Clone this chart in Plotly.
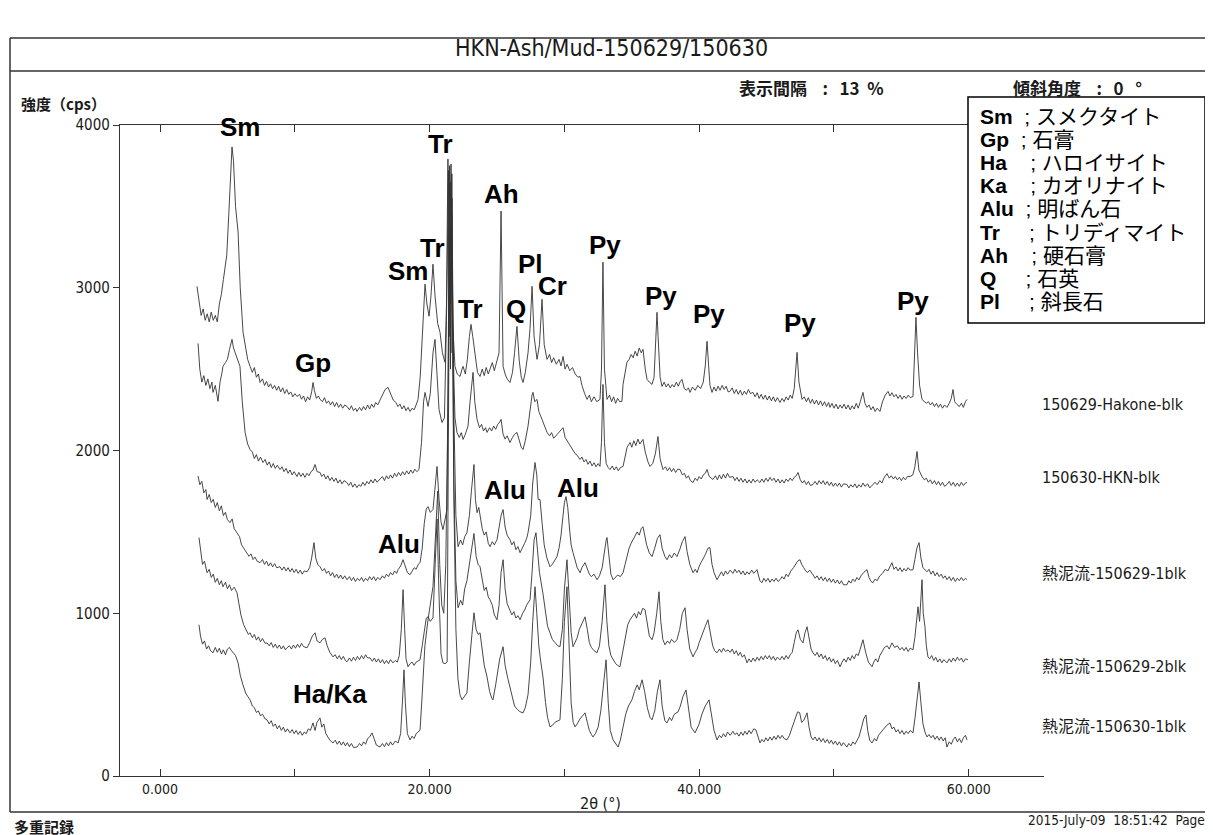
import plotly.graph_objects as go

W, H = 1213, 835

# ---------------- data: (2theta [deg], intensity [cps]) ----------------
hakone_blk = [
    (2.74, 3009), (2.90, 2900), (3.05, 2830), (3.20, 2870), (3.35, 2800), (3.50, 2840), (3.65, 2790), (3.80, 2850),
    (3.95, 2800), (4.10, 2830), (4.25, 2790), (4.40, 2900), (4.55, 2960), (4.70, 3050), (4.82, 3114), (4.95, 3200),
    (5.10, 3450), (5.25, 3750), (5.34, 3865), (5.45, 3780), (5.60, 3500), (5.79, 3342), (5.95, 3000), (6.16, 2726),
    (6.35, 2620), (6.50, 2560), (6.68, 2517), (6.85, 2480), (7.00, 2510), (7.15, 2450), (7.30, 2470), (7.42, 2418),
    (7.60, 2440), (7.75, 2400), (7.90, 2425), (8.05, 2390), (8.20, 2410), (8.35, 2380), (8.50, 2400), (8.65, 2370),
    (8.80, 2395), (8.95, 2360), (9.10, 2385), (9.25, 2350), (9.40, 2375), (9.55, 2345), (9.70, 2360), (9.85, 2330),
    (10.00, 2350), (10.16, 2332), (10.35, 2345), (10.50, 2315), (10.65, 2335), (10.80, 2300), (10.95, 2330),
    (11.10, 2310), (11.25, 2360), (11.35, 2418), (11.45, 2370), (11.60, 2320), (11.75, 2335), (11.87, 2314),
    (12.05, 2300), (12.20, 2325), (12.35, 2290), (12.50, 2305), (12.65, 2280), (12.80, 2300), (12.95, 2270),
    (13.10, 2295), (13.25, 2265), (13.40, 2285), (13.55, 2260), (13.70, 2280), (13.87, 2271), (14.05, 2250),
    (14.20, 2275), (14.35, 2245), (14.50, 2260), (14.61, 2240), (14.80, 2265), (14.95, 2245), (15.10, 2270),
    (15.25, 2250), (15.40, 2280), (15.55, 2255), (15.70, 2285), (15.85, 2265), (16.00, 2295), (16.15, 2280),
    (16.32, 2310), (16.50, 2340), (16.70, 2375), (16.91, 2388), (17.10, 2350), (17.30, 2310), (17.50, 2295),
    (17.65, 2270), (17.80, 2285), (17.95, 2255), (18.10, 2275), (18.25, 2245), (18.40, 2265), (18.55, 2240),
    (18.70, 2260), (18.85, 2250), (19.00, 2280), (19.14, 2314), (19.30, 2450), (19.50, 2800), (19.66, 3022),
    (19.80, 2900), (19.96, 2825), (20.10, 2950), (20.25, 3145), (20.40, 2950), (20.60, 2780), (20.77, 2726),
    (20.95, 2600), (21.14, 2542), (21.25, 2900), (21.36, 3791), (21.45, 2700), (21.52, 3400), (21.59, 3760),
    (21.70, 2800), (21.88, 2517), (22.05, 2470), (22.26, 2455), (22.40, 2500), (22.48, 2517), (22.65, 2470),
    (22.80, 2560), (22.95, 2700), (23.07, 2775), (23.20, 2700), (23.37, 2603), (23.55, 2480), (23.74, 2455),
    (23.90, 2500), (24.05, 2460), (24.20, 2510), (24.35, 2470), (24.48, 2498), (24.65, 2540), (24.80, 2490),
    (25.00, 2560), (25.15, 2600), (25.30, 3471), (25.40, 2700), (25.45, 2517), (25.60, 2470), (25.75, 2440),
    (25.96, 2418), (26.15, 2480), (26.30, 2600), (26.48, 2763), (26.65, 2550), (26.80, 2450), (26.93, 2418),
    (27.10, 2480), (27.30, 2600), (27.45, 2750), (27.60, 3009), (27.75, 2700), (27.97, 2560), (28.15, 2650),
    (28.34, 2929), (28.50, 2650), (28.71, 2560), (28.90, 2590), (29.05, 2540), (29.20, 2570), (29.40, 2530),
    (29.60, 2560), (29.75, 2520), (29.90, 2578), (30.05, 2500), (30.20, 2530), (30.40, 2490), (30.60, 2510),
    (30.80, 2470), (31.00, 2450), (31.16, 2455), (31.30, 2400), (31.50, 2350), (31.68, 2314), (31.85, 2340),
    (32.00, 2300), (32.20, 2330), (32.40, 2300), (32.64, 2314), (32.75, 2500), (32.86, 3157), (32.97, 2500),
    (33.16, 2314), (33.35, 2340), (33.50, 2300), (33.65, 2330), (33.80, 2290), (33.95, 2320), (34.10, 2300),
    (34.27, 2302), (34.35, 2406), (34.50, 2480), (34.64, 2542), (34.80, 2560), (34.95, 2590), (35.10, 2570),
    (35.25, 2610), (35.40, 2580), (35.55, 2630), (35.70, 2600), (35.83, 2622), (36.00, 2500), (36.13, 2437),
    (36.30, 2420), (36.50, 2406), (36.65, 2450), (36.80, 2700), (36.87, 2849), (36.95, 2700), (37.10, 2450),
    (37.24, 2394), (37.40, 2420), (37.55, 2390), (37.70, 2410), (37.85, 2385), (38.00, 2405), (38.15, 2390),
    (38.30, 2420), (38.45, 2395), (38.60, 2425), (38.72, 2437), (38.90, 2380), (39.05, 2370), (39.20, 2385),
    (39.32, 2357), (39.50, 2390), (39.70, 2370), (39.90, 2400), (40.10, 2380), (40.30, 2420), (40.45, 2520),
    (40.58, 2671), (40.70, 2520), (40.80, 2400), (40.95, 2357), (41.10, 2390), (41.25, 2365), (41.40, 2395),
    (41.55, 2370), (41.70, 2400), (41.85, 2375), (42.00, 2395), (42.15, 2360), (42.28, 2363), (42.45, 2385),
    (42.60, 2350), (42.75, 2375), (42.90, 2345), (43.05, 2370), (43.20, 2340), (43.35, 2365), (43.50, 2345),
    (43.65, 2375), (43.80, 2350), (43.99, 2357), (44.15, 2330), (44.30, 2355), (44.45, 2320), (44.60, 2345),
    (44.75, 2315), (44.90, 2340), (45.05, 2310), (45.20, 2335), (45.35, 2305), (45.50, 2330), (45.65, 2300),
    (45.80, 2325), (45.99, 2295), (46.15, 2320), (46.30, 2300), (46.45, 2330), (46.60, 2310), (46.75, 2340),
    (46.90, 2320), (47.05, 2380), (47.15, 2480), (47.26, 2603), (47.40, 2420), (47.63, 2314), (47.80, 2330),
    (47.95, 2300), (48.10, 2325), (48.25, 2290), (48.40, 2315), (48.55, 2285), (48.70, 2310), (48.85, 2280),
    (49.00, 2305), (49.15, 2275), (49.30, 2300), (49.45, 2270), (49.60, 2295), (49.70, 2265), (49.85, 2290),
    (50.00, 2260), (50.15, 2285), (50.30, 2255), (50.45, 2280), (50.60, 2260), (50.75, 2285), (50.90, 2255),
    (51.05, 2280), (51.20, 2250), (51.35, 2275), (51.50, 2255), (51.65, 2290), (51.80, 2260), (51.95, 2300),
    (52.15, 2357), (52.30, 2290), (52.45, 2265), (52.60, 2280), (52.75, 2250), (52.90, 2270), (53.05, 2240),
    (53.20, 2260), (53.41, 2240), (53.60, 2300), (53.80, 2340), (54.01, 2363), (54.15, 2335), (54.30, 2355),
    (54.45, 2330), (54.60, 2345), (54.75, 2320), (54.90, 2340), (55.05, 2315), (55.20, 2335), (55.35, 2320),
    (55.50, 2340), (55.65, 2325), (55.86, 2332), (55.95, 2500), (56.08, 2818), (56.20, 2600), (56.35, 2400),
    (56.53, 2314), (56.70, 2300), (56.85, 2290), (57.00, 2300), (57.15, 2280), (57.30, 2295), (57.45, 2270),
    (57.60, 2290), (57.75, 2265), (57.90, 2285), (58.05, 2260), (58.20, 2280), (58.38, 2265), (58.55, 2290),
    (58.70, 2320), (58.83, 2375), (58.95, 2300), (59.12, 2283), (59.30, 2270), (59.45, 2290), (59.60, 2265),
    (59.75, 2300), (59.87, 2314),
]

hkn_blk = [
    (2.82, 2658), (2.95, 2500), (3.10, 2420), (3.25, 2460), (3.40, 2400), (3.55, 2440), (3.70, 2380), (3.85, 2420),
    (3.93, 2357), (4.10, 2400), (4.30, 2302), (4.45, 2420), (4.60, 2480), (4.67, 2517), (4.85, 2540), (5.00, 2560),
    (5.15, 2620), (5.34, 2683), (5.45, 2630), (5.56, 2603), (5.75, 2560), (5.93, 2517), (6.10, 2300), (6.31, 2111),
    (6.50, 2040), (6.68, 2006), (6.85, 1990), (7.00, 1950), (7.15, 1975), (7.30, 1935), (7.45, 1960), (7.64, 1926),
    (7.80, 1945), (7.95, 1910), (8.10, 1930), (8.25, 1895), (8.40, 1920), (8.55, 1890), (8.70, 1910), (8.90, 1883),
    (9.05, 1900), (9.20, 1870), (9.35, 1890), (9.50, 1860), (9.65, 1880), (9.80, 1850), (9.95, 1870), (10.16, 1840),
    (10.30, 1865), (10.45, 1840), (10.60, 1860), (10.75, 1835), (10.90, 1860), (11.05, 1845), (11.20, 1870),
    (11.35, 1880), (11.50, 1914), (11.65, 1870), (11.87, 1865), (12.00, 1840), (12.15, 1855), (12.30, 1825),
    (12.45, 1845), (12.60, 1815), (12.75, 1835), (12.90, 1810), (13.05, 1830), (13.20, 1800), (13.35, 1820),
    (13.50, 1795), (13.65, 1815), (13.87, 1803), (14.00, 1785), (14.15, 1805), (14.30, 1775), (14.45, 1795),
    (14.61, 1772), (14.75, 1790), (14.90, 1780), (15.05, 1805), (15.20, 1785), (15.35, 1810), (15.50, 1795),
    (15.65, 1820), (15.80, 1800), (15.95, 1825), (16.10, 1805), (16.32, 1822), (16.50, 1840), (16.65, 1815),
    (16.80, 1845), (16.95, 1825), (17.10, 1850), (17.25, 1830), (17.40, 1860), (17.55, 1840), (17.70, 1865),
    (17.85, 1845), (18.00, 1870), (18.15, 1850), (18.30, 1875), (18.45, 1855), (18.60, 1880), (18.75, 1860),
    (18.90, 1885), (19.05, 1870), (19.21, 1883), (19.40, 2050), (19.55, 2300), (19.66, 2357), (19.80, 2300),
    (19.88, 2271), (20.05, 2350), (20.25, 2600), (20.40, 2683), (20.55, 2500), (20.70, 2250), (20.92, 2172),
    (21.10, 2200), (21.25, 2800), (21.40, 3720), (21.50, 2900), (21.60, 3650), (21.75, 2600), (21.88, 2200),
    (22.03, 2111), (22.20, 2080), (22.35, 2110), (22.48, 2068), (22.65, 2100), (22.85, 2150), (23.00, 2300),
    (23.15, 2450), (23.22, 2480), (23.35, 2300), (23.52, 2191), (23.70, 2140), (23.85, 2160), (24.00, 2120),
    (24.15, 2140), (24.26, 2111), (24.45, 2140), (24.60, 2120), (24.75, 2150), (24.90, 2130), (25.05, 2160),
    (25.20, 2175), (25.30, 2191), (25.45, 2100), (25.60, 2070), (25.75, 2090), (25.96, 2049), (26.15, 2080),
    (26.30, 2100), (26.48, 2111), (26.65, 2060), (26.80, 2020), (26.93, 2006), (27.10, 2060), (27.30, 2150),
    (27.45, 2250), (27.60, 2340), (27.67, 2357), (27.80, 2300), (27.97, 2314), (28.10, 2240), (28.34, 2191),
    (28.50, 2150), (28.71, 2111), (28.90, 2090), (29.05, 2110), (29.20, 2075), (29.40, 2095), (29.60, 2110),
    (29.75, 2130), (29.90, 2140), (30.05, 2080), (30.20, 2060), (30.35, 2040), (30.50, 2020), (30.65, 2000),
    (30.80, 1980), (30.95, 1970), (31.16, 1945), (31.30, 1960), (31.45, 1930), (31.60, 1945), (31.75, 1915),
    (31.90, 1935), (32.05, 1905), (32.20, 1925), (32.35, 1900), (32.50, 1920), (32.64, 1902), (32.75, 2050),
    (32.86, 2406), (32.97, 2050), (33.10, 1920), (33.25, 1895), (33.38, 1883), (33.55, 1905), (33.70, 1880),
    (33.85, 1900), (34.00, 1875), (34.15, 1895), (34.35, 1902), (34.50, 1960), (34.65, 2020), (34.87, 2049),
    (35.00, 2020), (35.15, 2060), (35.30, 2030), (35.45, 2070), (35.60, 2040), (35.83, 2068), (36.00, 1990),
    (36.20, 1930), (36.35, 1902), (36.55, 1920), (36.75, 1980), (36.94, 2086), (37.10, 1950), (37.31, 1883),
    (37.50, 1900), (37.65, 1875), (37.80, 1895), (37.95, 1870), (38.10, 1890), (38.25, 1865), (38.40, 1885),
    (38.58, 1883), (38.75, 1850), (38.90, 1860), (39.05, 1830), (39.20, 1845), (39.35, 1815), (39.54, 1803),
    (39.70, 1830), (39.85, 1815), (40.00, 1840), (40.15, 1825), (40.30, 1850), (40.45, 1860), (40.58, 1883),
    (40.75, 1840), (41.02, 1822), (41.20, 1845), (41.35, 1820), (41.50, 1850), (41.65, 1825), (41.80, 1855),
    (41.95, 1830), (42.10, 1860), (42.25, 1835), (42.51, 1840), (42.65, 1815), (42.80, 1835), (42.95, 1810),
    (43.10, 1830), (43.25, 1805), (43.40, 1825), (43.55, 1800), (43.70, 1820), (43.85, 1800), (44.00, 1825),
    (44.15, 1805), (44.30, 1820), (44.51, 1803), (44.65, 1825), (44.80, 1805), (44.95, 1830), (45.10, 1810),
    (45.25, 1835), (45.40, 1815), (45.55, 1830), (45.70, 1805), (45.85, 1825), (46.00, 1800), (46.15, 1820),
    (46.30, 1800), (46.45, 1825), (46.60, 1810), (46.75, 1830), (46.90, 1815), (47.05, 1835), (47.20, 1845),
    (47.33, 1865), (47.50, 1820), (47.65, 1800), (47.80, 1815), (47.95, 1790), (48.10, 1810), (48.25, 1785),
    (48.44, 1791), (48.60, 1810), (48.75, 1790), (48.90, 1815), (49.05, 1795), (49.20, 1815), (49.35, 1790),
    (49.50, 1810), (49.65, 1785), (49.80, 1805), (49.95, 1780), (50.10, 1800), (50.25, 1780), (50.40, 1800),
    (50.55, 1775), (50.70, 1795), (50.96, 1791), (51.10, 1770), (51.25, 1790), (51.40, 1775), (51.55, 1795),
    (51.70, 1770), (51.85, 1790), (52.00, 1775), (52.15, 1800), (52.30, 1780), (52.50, 1795), (52.65, 1770),
    (52.89, 1791), (53.05, 1805), (53.20, 1790), (53.40, 1815), (53.55, 1800), (53.70, 1830), (53.93, 1858),
    (54.10, 1830), (54.25, 1845), (54.40, 1825), (54.55, 1840), (54.70, 1820), (54.85, 1835), (55.00, 1815),
    (55.15, 1835), (55.30, 1820), (55.45, 1840), (55.64, 1840), (55.85, 1850), (56.00, 1900), (56.16, 1994),
    (56.30, 1880), (56.53, 1840), (56.70, 1820), (56.85, 1830), (57.00, 1805), (57.15, 1820), (57.30, 1795),
    (57.45, 1815), (57.60, 1790), (57.75, 1810), (57.90, 1785), (58.05, 1805), (58.20, 1780), (58.38, 1791),
    (58.55, 1810), (58.70, 1785), (58.85, 1805), (59.00, 1780), (59.15, 1800), (59.30, 1780), (59.45, 1805),
    (59.60, 1785), (59.75, 1800), (59.87, 1803),
]

mud_150629_1 = [
    (2.82, 1843), (2.95, 1790), (3.10, 1810), (3.25, 1740), (3.40, 1760), (3.49, 1699), (3.65, 1730), (3.80, 1680),
    (3.95, 1700), (4.10, 1650), (4.25, 1680), (4.40, 1630), (4.55, 1660), (4.70, 1600), (4.85, 1620), (5.00, 1575),
    (5.19, 1557), (5.35, 1580), (5.50, 1520), (5.71, 1495), (5.90, 1470), (6.05, 1420), (6.20, 1400), (6.45, 1372),
    (6.60, 1350), (6.75, 1365), (6.90, 1330), (7.05, 1345), (7.20, 1320), (7.42, 1311), (7.60, 1330), (7.75, 1300),
    (7.90, 1320), (8.05, 1290), (8.20, 1310), (8.35, 1285), (8.50, 1305), (8.65, 1280), (8.90, 1286), (9.05, 1265),
    (9.20, 1285), (9.35, 1260), (9.50, 1280), (9.65, 1255), (9.80, 1275), (9.95, 1250), (10.10, 1270), (10.25, 1245),
    (10.40, 1265), (10.55, 1240), (10.70, 1260), (10.91, 1255), (11.10, 1280), (11.25, 1340), (11.42, 1434),
    (11.55, 1340), (11.70, 1300), (11.87, 1286), (12.05, 1260), (12.20, 1275), (12.35, 1245), (12.50, 1260),
    (12.65, 1230), (12.80, 1250), (12.95, 1220), (13.10, 1240), (13.25, 1215), (13.40, 1235), (13.55, 1210),
    (13.70, 1230), (13.87, 1206), (14.05, 1225), (14.20, 1200), (14.35, 1220), (14.50, 1195), (14.65, 1215),
    (14.80, 1200), (14.95, 1220), (15.10, 1195), (15.25, 1215), (15.40, 1200), (15.55, 1225), (15.70, 1205),
    (15.85, 1225), (16.00, 1200), (16.15, 1220), (16.32, 1206), (16.50, 1230), (16.65, 1215), (16.80, 1240),
    (16.95, 1225), (17.10, 1250), (17.25, 1235), (17.40, 1260), (17.55, 1245), (17.66, 1268), (17.85, 1290),
    (18.03, 1329), (18.20, 1280), (18.35, 1250), (18.55, 1237), (18.70, 1260), (18.85, 1280), (19.00, 1270),
    (19.15, 1300), (19.29, 1311), (19.45, 1400), (19.60, 1550), (19.75, 1640), (19.88, 1655), (20.05, 1620),
    (20.25, 1637), (20.40, 1780), (20.55, 1902), (20.70, 1700), (20.85, 1560), (20.99, 1514), (21.15, 1580),
    (21.29, 1637), (21.40, 2800), (21.48, 3750), (21.56, 2900), (21.65, 3700), (21.78, 2300), (21.95, 1600),
    (22.11, 1409), (22.30, 1450), (22.45, 1420), (22.60, 1470), (22.77, 1495), (22.95, 1600), (23.10, 1750),
    (23.29, 1914), (23.40, 1700), (23.52, 1618), (23.65, 1650), (23.74, 1594), (23.90, 1520), (24.05, 1480),
    (24.20, 1500), (24.35, 1430), (24.48, 1409), (24.65, 1440), (24.80, 1420), (25.00, 1452), (25.15, 1520),
    (25.30, 1600), (25.45, 1637), (25.60, 1530), (25.75, 1480), (25.96, 1452), (26.10, 1420), (26.25, 1440),
    (26.40, 1390), (26.55, 1410), (26.71, 1372), (26.90, 1400), (27.05, 1430), (27.20, 1460), (27.30, 1495),
    (27.50, 1600), (27.65, 1800), (27.82, 1926), (27.95, 1850), (28.05, 1700), (28.19, 1699), (28.35, 1550),
    (28.50, 1420), (28.70, 1340), (28.93, 1286), (29.10, 1300), (29.25, 1320), (29.45, 1348), (29.60, 1400),
    (29.75, 1480), (29.90, 1600), (30.00, 1680), (30.12, 1717), (30.25, 1650), (30.40, 1500), (30.50, 1420),
    (30.64, 1372), (30.80, 1320), (30.95, 1280), (31.16, 1249), (31.30, 1280), (31.53, 1311), (31.70, 1270),
    (31.85, 1240), (32.00, 1225), (32.20, 1240), (32.42, 1206), (32.60, 1230), (32.80, 1280), (32.95, 1380),
    (33.10, 1450), (33.16, 1465), (33.30, 1350), (33.45, 1240), (33.61, 1206), (33.80, 1220), (33.95, 1235),
    (34.15, 1225), (34.35, 1249), (34.50, 1300), (34.65, 1350), (34.80, 1400), (34.95, 1430), (35.09, 1452),
    (35.25, 1470), (35.40, 1500), (35.55, 1480), (35.70, 1520), (35.83, 1532), (35.95, 1480), (36.10, 1420),
    (36.30, 1370), (36.50, 1348), (36.70, 1400), (36.90, 1460), (37.09, 1483), (37.25, 1400), (37.45, 1350),
    (37.61, 1329), (37.80, 1360), (37.95, 1340), (38.15, 1370), (38.35, 1348), (38.55, 1390), (38.75, 1440),
    (38.95, 1471), (39.10, 1380), (39.30, 1300), (39.54, 1249), (39.70, 1270), (39.85, 1250), (40.00, 1290),
    (40.20, 1320), (40.45, 1360), (40.65, 1400), (40.80, 1403), (40.95, 1300), (41.10, 1250), (41.32, 1206),
    (41.50, 1230), (41.65, 1255), (41.80, 1230), (41.95, 1260), (42.10, 1240), (42.30, 1265), (42.50, 1245),
    (42.65, 1270), (42.80, 1249), (42.95, 1265), (43.10, 1240), (43.25, 1260), (43.40, 1235), (43.55, 1255),
    (43.70, 1240), (43.90, 1265), (44.05, 1245), (44.29, 1268), (44.50, 1200), (44.66, 1188), (44.80, 1215),
    (44.95, 1195), (45.10, 1215), (45.25, 1190), (45.40, 1210), (45.55, 1195), (45.70, 1215), (45.85, 1195),
    (45.99, 1206), (46.15, 1225), (46.30, 1210), (46.45, 1240), (46.60, 1225), (46.80, 1260), (47.00, 1280),
    (47.15, 1300), (47.30, 1320), (47.48, 1329), (47.60, 1300), (47.75, 1280), (47.90, 1260), (48.05, 1250),
    (48.20, 1265), (48.44, 1237), (48.60, 1215), (48.75, 1230), (48.90, 1205), (49.05, 1225), (49.20, 1200),
    (49.35, 1220), (49.50, 1195), (49.65, 1215), (49.80, 1190), (49.95, 1210), (50.10, 1185), (50.25, 1205),
    (50.40, 1180), (50.55, 1200), (50.70, 1175), (50.96, 1175), (51.10, 1200), (51.25, 1185), (51.40, 1210),
    (51.55, 1195), (51.70, 1220), (51.85, 1205), (52.00, 1230), (52.20, 1250), (52.45, 1268), (52.60, 1220),
    (52.75, 1195), (52.89, 1188), (53.05, 1210), (53.20, 1200), (53.40, 1230), (53.60, 1245), (53.80, 1270),
    (54.00, 1260), (54.15, 1290), (54.30, 1311), (54.45, 1270), (54.60, 1285), (54.75, 1260), (54.90, 1280),
    (55.05, 1255), (55.20, 1275), (55.35, 1260), (55.50, 1280), (55.65, 1265), (55.86, 1268), (56.00, 1330),
    (56.15, 1400), (56.31, 1434), (56.45, 1340), (56.60, 1280), (56.75, 1265), (56.90, 1255), (57.05, 1270),
    (57.20, 1240), (57.35, 1260), (57.50, 1230), (57.65, 1250), (57.80, 1225), (57.95, 1240), (58.10, 1215),
    (58.25, 1230), (58.38, 1206), (58.55, 1225), (58.70, 1200), (58.85, 1220), (59.00, 1195), (59.15, 1215),
    (59.30, 1200), (59.45, 1220), (59.60, 1200), (59.75, 1215), (59.87, 1206),
]

mud_150629_2 = [
    (2.89, 1465), (3.00, 1380), (3.15, 1300), (3.30, 1320), (3.49, 1249), (3.65, 1270), (3.80, 1220), (3.95, 1240),
    (4.10, 1190), (4.25, 1215), (4.40, 1175), (4.55, 1200), (4.67, 1163), (4.85, 1190), (5.00, 1150), (5.15, 1175),
    (5.30, 1140), (5.50, 1160), (5.71, 1126), (5.85, 1060), (6.00, 990), (6.20, 930), (6.40, 900), (6.55, 870),
    (6.68, 880), (6.85, 850), (7.00, 870), (7.15, 835), (7.30, 855), (7.45, 825), (7.60, 845), (7.80, 815),
    (7.94, 818), (8.10, 800), (8.25, 820), (8.40, 790), (8.55, 810), (8.70, 785), (8.85, 805), (9.00, 780),
    (9.15, 800), (9.30, 775), (9.42, 788), (9.60, 800), (9.75, 780), (9.90, 805), (10.05, 785), (10.20, 810),
    (10.35, 790), (10.50, 815), (10.65, 795), (10.91, 788), (11.10, 820), (11.30, 860), (11.50, 880), (11.65, 830),
    (11.87, 818), (12.05, 840), (12.24, 849), (12.40, 800), (12.60, 760), (12.83, 732), (13.00, 745), (13.15, 720),
    (13.30, 740), (13.45, 715), (13.60, 735), (13.75, 710), (13.87, 702), (14.05, 725), (14.20, 705), (14.35, 730),
    (14.50, 710), (14.65, 735), (14.80, 715), (14.95, 740), (15.10, 720), (15.25, 745), (15.40, 725), (15.58, 726),
    (15.75, 705), (15.90, 725), (16.05, 700), (16.20, 720), (16.35, 695), (16.50, 715), (16.65, 690), (16.80, 710),
    (16.95, 690), (17.10, 715), (17.28, 695), (17.45, 710), (17.60, 700), (17.75, 740), (17.90, 900), (18.03, 1145),
    (18.15, 900), (18.25, 720), (18.40, 671), (18.55, 690), (18.70, 700), (18.85, 680), (19.00, 700), (19.15, 710),
    (19.29, 714), (19.45, 800), (19.60, 900), (19.75, 970), (19.88, 978), (20.05, 950), (20.25, 972), (20.40, 1300),
    (20.55, 1580), (20.70, 1100), (20.85, 750), (20.99, 695), (21.15, 690), (21.30, 700), (21.42, 2700),
    (21.50, 3650), (21.58, 2600), (21.66, 3550), (21.80, 1800), (21.95, 1200), (22.11, 1034), (22.30, 1080),
    (22.45, 1050), (22.60, 1150), (22.77, 1200), (22.95, 1300), (23.10, 1400), (23.29, 1490), (23.45, 1350),
    (23.60, 1300), (23.74, 1286), (23.90, 1200), (24.05, 1140), (24.20, 1160), (24.35, 1100), (24.48, 1083),
    (24.65, 1050), (24.80, 990), (25.00, 960), (25.15, 1050), (25.30, 1250), (25.45, 1329), (25.60, 1150),
    (25.75, 1060), (25.96, 1022), (26.10, 990), (26.25, 1010), (26.40, 970), (26.55, 985), (26.71, 960),
    (26.90, 1000), (27.05, 1020), (27.20, 1050), (27.45, 1083), (27.60, 1250), (27.75, 1450), (27.89, 1495),
    (28.00, 1400), (28.15, 1250), (28.41, 1120), (28.60, 1000), (28.75, 920), (28.93, 880), (29.10, 840),
    (29.30, 820), (29.50, 800), (29.67, 794), (29.85, 900), (30.00, 1150), (30.19, 1329), (30.35, 1100),
    (30.50, 880), (30.64, 794), (30.80, 820), (30.95, 850), (31.10, 900), (31.30, 940), (31.53, 978), (31.70, 900),
    (31.85, 820), (32.00, 790), (32.20, 770), (32.42, 757), (32.60, 800), (32.80, 950), (33.01, 1175), (33.15, 950),
    (33.30, 800), (33.45, 740), (33.61, 714), (33.80, 690), (33.95, 680), (34.12, 671), (34.30, 750), (34.50, 850),
    (34.70, 930), (34.87, 960), (35.05, 980), (35.20, 1000), (35.35, 970), (35.50, 1010), (35.65, 990),
    (35.80, 1030), (35.98, 1022), (36.15, 920), (36.30, 860), (36.50, 837), (36.65, 880), (36.85, 1000),
    (37.02, 1132), (37.15, 950), (37.30, 840), (37.46, 806), (37.65, 830), (37.80, 815), (37.95, 840), (38.15, 820),
    (38.35, 837), (38.55, 900), (38.75, 1000), (38.95, 1034), (39.10, 900), (39.30, 780), (39.54, 732), (39.70, 760),
    (39.85, 780), (40.00, 820), (40.20, 870), (40.45, 920), (40.65, 960), (40.80, 880), (41.00, 800), (41.15, 770),
    (41.32, 757), (41.50, 780), (41.65, 760), (41.80, 785), (41.95, 765), (42.14, 775), (42.30, 760), (42.45, 780),
    (42.60, 750), (42.75, 770), (42.90, 740), (43.05, 760), (43.20, 730), (43.35, 745), (43.55, 695), (43.70, 720),
    (43.85, 700), (44.00, 725), (44.15, 705), (44.30, 730), (44.45, 710), (44.60, 735), (44.75, 715), (44.90, 740),
    (45.05, 720), (45.20, 740), (45.35, 715), (45.50, 735), (45.65, 710), (45.80, 730), (45.99, 714), (46.15, 735),
    (46.30, 715), (46.45, 740), (46.60, 720), (46.75, 745), (46.90, 760), (47.05, 820), (47.20, 880), (47.33, 898),
    (47.50, 840), (47.70, 818), (47.85, 880), (48.00, 917), (48.15, 840), (48.30, 780), (48.44, 757), (48.60, 740),
    (48.75, 760), (48.90, 730), (49.05, 750), (49.20, 720), (49.35, 740), (49.50, 710), (49.65, 730), (49.80, 700),
    (49.95, 720), (50.10, 690), (50.25, 710), (50.45, 671), (50.60, 700), (50.75, 720), (50.90, 700), (51.05, 730),
    (51.20, 710), (51.35, 740), (51.50, 720), (51.65, 750), (51.80, 740), (51.95, 780), (52.15, 837), (52.35, 760),
    (52.55, 700), (52.82, 671), (52.95, 700), (53.10, 720), (53.25, 700), (53.40, 740), (53.55, 760), (53.75, 790),
    (53.95, 800), (54.10, 780), (54.30, 818), (54.50, 790), (54.70, 800), (54.90, 775), (55.05, 790), (55.20, 770),
    (55.35, 790), (55.50, 765), (55.65, 785), (55.86, 775), (56.00, 850), (56.12, 980), (56.23, 1040),
    (56.35, 950), (56.45, 1100), (56.53, 1206), (56.62, 1000), (56.75, 917), (56.85, 800), (56.97, 732),
    (57.10, 720), (57.25, 740), (57.40, 710), (57.55, 730), (57.70, 700), (57.85, 720), (58.00, 695), (58.15, 715),
    (58.38, 695), (58.55, 720), (58.70, 700), (58.85, 725), (59.00, 705), (59.15, 730), (59.30, 710), (59.45, 725),
    (59.60, 700), (59.75, 720), (59.94, 714),
]

mud_150630_1 = [
    (2.89, 929), (3.00, 860), (3.15, 810), (3.30, 830), (3.45, 780), (3.60, 800), (3.75, 770), (3.93, 757),
    (4.10, 790), (4.25, 760), (4.40, 785), (4.55, 750), (4.70, 775), (4.85, 745), (5.00, 780), (5.15, 790),
    (5.30, 770), (5.42, 757), (5.60, 740), (5.79, 695), (5.95, 620), (6.15, 560), (6.35, 510), (6.50, 490),
    (6.68, 468), (6.85, 430), (7.00, 420), (7.15, 390), (7.30, 400), (7.45, 370), (7.60, 380), (7.80, 350),
    (7.94, 345), (8.10, 320), (8.25, 340), (8.40, 305), (8.55, 320), (8.70, 290), (8.85, 310), (9.00, 280),
    (9.15, 300), (9.30, 270), (9.45, 290), (9.64, 265), (9.80, 285), (9.95, 260), (10.10, 280), (10.25, 255),
    (10.40, 275), (10.55, 250), (10.70, 270), (10.85, 260), (11.00, 290), (11.15, 280), (11.35, 326), (11.50, 280),
    (11.65, 330), (11.87, 357), (12.00, 300), (12.15, 320), (12.30, 260), (12.45, 240), (12.60, 220), (12.83, 203),
    (13.00, 220), (13.15, 195), (13.30, 215), (13.45, 190), (13.60, 210), (13.75, 185), (13.90, 205), (14.05, 180),
    (14.20, 200), (14.35, 175), (14.61, 178), (14.80, 200), (14.95, 185), (15.10, 210), (15.25, 195), (15.40, 230),
    (15.55, 240), (15.73, 265), (15.90, 220), (16.05, 190), (16.32, 178), (16.50, 200), (16.65, 180), (16.80, 205),
    (16.95, 185), (17.10, 210), (17.25, 190), (17.45, 215), (17.66, 203), (17.85, 260), (17.98, 450), (18.10, 652),
    (18.20, 450), (18.35, 260), (18.55, 222), (18.70, 245), (18.85, 230), (19.00, 260), (19.15, 270), (19.29, 283),
    (19.45, 500), (19.65, 800), (19.88, 960), (20.05, 1050), (20.25, 1163), (20.45, 1500), (20.60, 1750),
    (20.75, 1300), (20.90, 1050), (21.05, 1000), (21.20, 1300), (21.38, 2400), (21.47, 3550), (21.55, 2500),
    (21.63, 3450), (21.80, 1700), (21.95, 900), (22.10, 600), (22.25, 500), (22.40, 468), (22.60, 490),
    (22.77, 511), (22.95, 700), (23.15, 900), (23.29, 1003), (23.45, 900), (23.60, 870), (23.74, 880), (23.90, 760),
    (24.05, 680), (24.26, 609), (24.45, 520), (24.60, 480), (24.70, 468), (24.90, 560), (25.05, 650), (25.20, 720),
    (25.45, 794), (25.60, 680), (25.80, 600), (25.96, 548), (26.15, 470), (26.30, 430), (26.50, 410), (26.70, 395),
    (26.93, 388), (27.10, 420), (27.30, 500), (27.50, 700), (27.65, 950), (27.82, 1163), (27.95, 1000),
    (28.10, 800), (28.25, 700), (28.41, 609), (28.60, 450), (28.75, 360), (28.93, 302), (29.10, 310), (29.30, 330),
    (29.50, 340), (29.67, 345), (29.85, 600), (30.00, 950), (30.19, 1163), (30.35, 850), (30.50, 450), (30.65, 330),
    (30.79, 302), (30.95, 320), (31.15, 350), (31.35, 370), (31.53, 388), (31.70, 330), (31.85, 280), (32.00, 255),
    (32.12, 240), (32.30, 260), (32.50, 300), (32.70, 400), (32.90, 550), (33.09, 714), (33.25, 450), (33.40, 280),
    (33.61, 222), (33.80, 200), (33.98, 178), (34.15, 220), (34.35, 300), (34.55, 380), (34.75, 430), (35.01, 468),
    (35.20, 520), (35.40, 560), (35.55, 530), (35.76, 591), (35.95, 520), (36.15, 420), (36.35, 360), (36.50, 345),
    (36.70, 400), (36.90, 520), (37.09, 591), (37.25, 430), (37.45, 340), (37.61, 326), (37.80, 360), (37.95, 340),
    (38.15, 380), (38.43, 394), (38.60, 430), (38.80, 490), (39.02, 529), (39.20, 420), (39.40, 300), (39.69, 265),
    (39.85, 290), (40.00, 320), (40.20, 380), (40.45, 430), (40.73, 468), (40.90, 380), (41.10, 280), (41.32, 222),
    (41.50, 250), (41.65, 235), (41.80, 260), (41.95, 240), (42.10, 270), (42.30, 250), (42.50, 275), (42.65, 255),
    (42.80, 265), (42.95, 245), (43.10, 270), (43.25, 250), (43.40, 275), (43.55, 255), (43.70, 280), (43.85, 260),
    (44.05, 290), (44.21, 283), (44.35, 240), (44.51, 203), (44.65, 225), (44.80, 210), (44.95, 235), (45.10, 215),
    (45.25, 240), (45.40, 220), (45.55, 245), (45.70, 225), (45.85, 250), (46.00, 230), (46.15, 250), (46.30, 230),
    (46.51, 222), (46.70, 250), (46.90, 300), (47.10, 350), (47.30, 394), (47.45, 390), (47.60, 330), (47.75, 340),
    (47.90, 370), (48.00, 388), (48.15, 300), (48.30, 240), (48.44, 222), (48.60, 240), (48.75, 215), (48.90, 235),
    (49.05, 210), (49.20, 230), (49.35, 205), (49.50, 225), (49.65, 200), (49.80, 220), (49.95, 195), (50.10, 215),
    (50.25, 190), (50.40, 210), (50.55, 185), (50.70, 205), (50.96, 178), (51.10, 200), (51.25, 185), (51.40, 210),
    (51.55, 195), (51.70, 220), (51.85, 240), (52.05, 300), (52.20, 350), (52.37, 375), (52.50, 280), (52.65, 220),
    (52.82, 203), (53.00, 230), (53.15, 215), (53.30, 250), (53.50, 270), (53.70, 290), (53.90, 310), (54.15, 326),
    (54.30, 290), (54.45, 300), (54.60, 270), (54.75, 285), (54.90, 260), (55.05, 280), (55.20, 255), (55.35, 275),
    (55.50, 260), (55.65, 280), (55.86, 265), (56.00, 350), (56.15, 480), (56.31, 578), (56.45, 450), (56.60, 320),
    (56.75, 270), (56.90, 240), (57.05, 255), (57.20, 235), (57.35, 250), (57.50, 225), (57.65, 245), (57.80, 220),
    (57.95, 240), (58.10, 215), (58.25, 235), (58.38, 178), (58.55, 210), (58.70, 195), (58.85, 225), (59.00, 240),
    (59.15, 210), (59.30, 230), (59.45, 205), (59.60, 235), (59.75, 250), (59.87, 222),
]

sample_names = ["150629-Hakone-blk", "150630-HKN-blk", "熱泥流-150629-1blk",
                "熱泥流-150629-2blk", "熱泥流-150630-1blk"]
sample_label_cps = [2283, 1834, 1243, 671, 302]

peak_text = ["Sm", "Tr", "Ah", "Tr", "Sm", "Py", "Pl", "Cr", "Tr", "Q", "Py", "Py", "Py", "Py",
             "Gp", "Alu", "Alu", "Alu", "Ha/Ka"]
peak_x = [5.93, 20.77, 25.30, 20.18, 18.40, 33.01, 27.52, 29.08, 23.00, 26.41, 37.17, 40.73, 47.48, 55.86,
          11.35, 25.59, 31.01, 17.73, 12.61]
peak_y = [3988, 3883, 3575, 3243, 3102, 3262, 3145, 3009, 2868, 2868, 2948, 2837, 2782, 2917,
          2535, 1760, 1772, 1428, 505]

mineral_abbr = ["Sm", "Gp", "Ha", "Ka", "Alu", "Tr", "Ah", "Q", "Pl"]
mineral_name = ["スメクタイト", "石膏", "ハロイサイト", "カオリナイト", "明ばん石",
                "トリディマイト", "硬石膏", "石英", "斜長石"]
abbr_pad = [2, 2, 4, 4, 2, 5, 4, 5, 5]   # spaces after each abbreviation to line up the semicolons

x_tick_vals = [0, 10, 20, 30, 40, 50, 60]
x_tick_text = ["0.000", "", "20.000", "", "40.000", "", "60.000"]
y_tick_vals = [0, 1000, 2000, 3000, 4000]

title_text = "HKN-Ash/Mud-150629/150630"

# ---------------- styling ----------------
NARROW = "DejaVu Sans Condensed, Liberation Sans Narrow, Noto Sans CJK JP, sans-serif"
BOLD = "Liberation Sans, Arial, Noto Sans CJK JP, sans-serif"
JP = "Noto Sans CJK JP, sans-serif"
INK = "#1a1a1a"
NBSP = "\u00a0"
OFF = 8  # the page places the figure 8 px from the top-left corner


def px(xp):
    return (xp - OFF) / W


def py(yp):
    return 1 - (yp - OFF) / H


fig = go.Figure()
for series in [hakone_blk, hkn_blk, mud_150629_1, mud_150629_2, mud_150630_1]:
    xs = [p[0] for p in series]
    ys = [p[1] for p in series]
    fig.add_trace(go.Scatter(x=xs, y=ys, mode="lines", line=dict(color="#333333", width=0.9),
                             hoverinfo="skip"))

ann = []
for t, x, y in zip(peak_text, peak_x, peak_y):
    ann.append(dict(x=x, y=y, xref="x", yref="y", text="<b>%s</b>" % t, showarrow=False,
                    font=dict(family=BOLD, size=26, color="black"), xanchor="center", yanchor="middle"))

for name, y in zip(sample_names, sample_label_cps):
    ann.append(dict(x=px(1040), y=y, xref="paper", yref="y", text=name, showarrow=False,
                    font=dict(family=NARROW, size=16, color=INK), xanchor="left", yanchor="middle"))

# legend box texts (one line each)
for i, (a, n, pad) in enumerate(zip(mineral_abbr, mineral_name, abbr_pad)):
    yy = 116.5 + i * 23.1
    txt = "<b>%s</b>%s;%s%s" % (a, NBSP * pad, NBSP, n)
    ann.append(dict(x=px(978), y=py(yy), xref="paper", yref="paper", text=txt, showarrow=False,
                    font=dict(family=BOLD, size=21, color="black"), xanchor="left", yanchor="middle"))

# header / footer texts
ann += [
    dict(x=px(611), y=py(48), xref="paper", yref="paper", text=title_text, showarrow=False,
         font=dict(family=NARROW, size=23, color=INK), xanchor="center", yanchor="middle"),
    dict(x=px(737), y=py(87), xref="paper", yref="paper",
         text="<b>表示間隔%s:%s13%s%%</b>" % (NBSP * 4, NBSP * 3, NBSP * 2), showarrow=False,
         font=dict(family=JP, size=17, color=INK), xanchor="left", yanchor="middle"),
    dict(x=px(1011), y=py(87), xref="paper", yref="paper",
         text="<b>傾斜角度%s:%s0%s°</b>" % (NBSP * 4, NBSP * 3, NBSP * 3), showarrow=False,
         font=dict(family=JP, size=17, color=INK), xanchor="left", yanchor="middle"),
    dict(x=px(19), y=py(103), xref="paper", yref="paper", text="<b>強度（cps）</b>", showarrow=False,
         font=dict(family=JP, size=15, color=INK), xanchor="left", yanchor="middle"),
    dict(x=px(600), y=py(803), xref="paper", yref="paper", text="2θ (°)", showarrow=False,
         font=dict(family=NARROW, size=16, color=INK), xanchor="center", yanchor="middle"),
    dict(x=px(12), y=py(826), xref="paper", yref="paper", text="<b>多重記録</b>", showarrow=False,
         font=dict(family=JP, size=15, color=INK), xanchor="left", yanchor="middle"),
    dict(x=px(1211), y=py(820), xref="paper", yref="paper", text="2015-July-09  18:51:42  Page-",
         showarrow=False, font=dict(family=NARROW, size=13.5, color=INK), xanchor="right", yanchor="middle"),
]

LINE = dict(color="#333", width=1.5)
shapes = [
    dict(type="line", xref="paper", yref="paper", x0=px(10), x1=1, y0=py(38), y1=py(38), line=LINE),
    dict(type="line", xref="paper", yref="paper", x0=px(10), x1=1, y0=py(71), y1=py(71), line=LINE),
    dict(type="line", xref="paper", yref="paper", x0=px(10), x1=1, y0=py(812), y1=py(812), line=LINE),
    dict(type="line", xref="paper", yref="paper", x0=px(10), x1=px(10), y0=py(38), y1=py(812), line=LINE),
    dict(type="rect", xref="paper", yref="paper", x0=px(968), x1=px(1205), y0=py(97), y1=py(323),
         line=dict(color="black", width=1.5), fillcolor="white", layer="above"),
]

fig.update_layout(
    template="none",
    width=W, height=H, margin=dict(l=0, r=0, t=0, b=0, pad=0), autosize=False,
    paper_bgcolor="white", plot_bgcolor="white", showlegend=False,
    xaxis=dict(domain=[px(120), px(1044)], range=[-2.97, 65.58], showgrid=False, zeroline=False,
               automargin=False, showline=True, linecolor="#333", linewidth=1.3, mirror="ticks",
               ticks="inside", ticklen=7, tickcolor="#333", tickvals=x_tick_vals, ticktext=x_tick_text,
               tickfont=dict(family=NARROW, size=14, color=INK)),
    yaxis=dict(domain=[py(776), py(125)], range=[0, 4000], showgrid=False, zeroline=False,
               automargin=False, showline=True, linecolor="#333", linewidth=1.3,
               ticks="outside", ticklen=6, tickcolor="#333", tickvals=y_tick_vals,
               tickfont=dict(family=NARROW, size=15, color=INK)),
    annotations=ann, shapes=shapes,
)

fig.write_html("out.html")
